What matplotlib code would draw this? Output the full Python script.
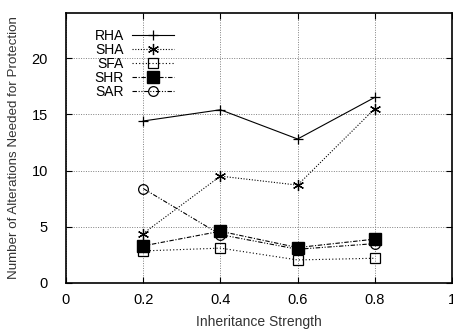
import matplotlib
matplotlib.use("Agg")
import matplotlib.pyplot as plt

plt.rcParams['font.family'] = ['Liberation Sans', 'DejaVu Sans']

x = [0.2, 0.4, 0.6, 0.8]
rha = [14.4, 15.4, 12.8, 16.5]
sha = [4.4, 9.5, 8.7, 15.5]
sfa = [2.85, 3.1, 2.05, 2.2]
shr = [3.3, 4.6, 3.15, 3.9]
sar = [8.4, 4.3, 3.0, 3.5]
labels = ["RHA", "SHA", "SFA", "SHR", "SAR"]
xticks = [0, 0.2, 0.4, 0.6, 0.8, 1]
yticks = [0, 5, 10, 15, 20]

fig = plt.figure(figsize=(4.53, 3.29), dpi=100)
ax = fig.add_axes([66/453, 1-283/329, 386/453, 270/329])

lw = 0.8
ax.plot(x, rha, color='black', lw=lw, ls='-', marker='+', ms=7, mew=0.9, label=labels[0])
ax.plot(x, sha, color='black', lw=lw, ls=(0, (1, 1.5)), marker=(6, 2, 0), ms=8, mew=0.9, label=labels[1])
ax.plot(x, sfa, color='black', lw=lw, ls=(0, (1, 2)), marker='s', mfc='none', ms=7, mew=0.9, label=labels[2])
ax.plot(x, shr, color='black', lw=lw, ls=(0, (4, 1.5, 1, 1.5)), marker='s', ms=8, label=labels[3])
ax.plot(x, sar, color='black', lw=lw, ls=(0, (4, 1.5, 1, 1.5, 1, 1.5)), marker='o', mfc='none', ms=7, mew=0.9, label=labels[4])

ax.set_xlim(0, 1)
ax.set_ylim(0, 24)
ax.set_xticks(xticks)
ax.set_xticklabels(["0", "0.2", "0.4", "0.6", "0.8", "1"])
ax.set_yticks(yticks)
ax.tick_params(direction='in', top=True, right=True, labelsize=10.5, length=4, width=0.8)
ax.tick_params(axis='x', pad=7)
ax.tick_params(axis='y', pad=13)
ax.grid(True, color='gray', ls=(0, (1, 1.5)), lw=0.7)
for s in ax.spines.values():
    s.set_linewidth(1.2)

ax.set_xlabel("Inheritance Strength", fontsize=10, color='#333333', labelpad=6)
ax.set_ylabel("Number of Alterations Needed for Protection", fontsize=9.6, color='#333333', labelpad=8)

leg = ax.legend(loc='upper left', bbox_to_anchor=(0.06, 0.96), markerfirst=False, frameon=False,
                fontsize=10, handlelength=3, labelspacing=0.0, handletextpad=0.6, borderaxespad=0)
for t in leg.get_texts():
    t.set_ha('right')

fig.savefig("out.png", dpi=100)
